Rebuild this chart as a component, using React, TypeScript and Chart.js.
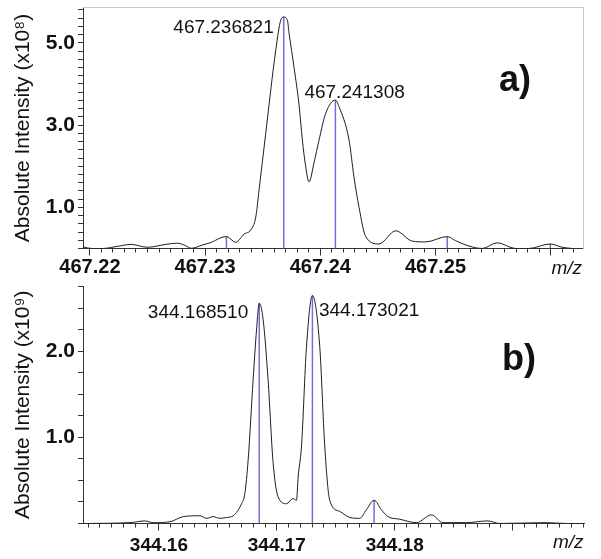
import { useEffect, useRef } from "react";
import { Chart, registerables } from "chart.js";

Chart.register(...registerables);

const FONT = '"Liberation Sans", Arial, Helvetica, sans-serif';

// ---------------- Panel a) ----------------
const aProfileMz = [
  467.21936, 467.22023, 467.22107, 467.22254, 467.22356, 467.225, 467.22659, 467.2276, 467.22818,
  467.22881, 467.22977, 467.23035, 467.23185, 467.23266, 467.23338, 467.23396, 467.2344, 467.23468,
  467.23526, 467.23613, 467.23656, 467.236821, 467.23714, 467.23729, 467.23772, 467.23815, 467.23844,
  467.23873, 467.23902, 467.23945, 467.23989, 467.24047, 467.241308, 467.24162, 467.24249, 467.24292,
  467.24336, 467.24394, 467.24509, 467.24654, 467.24798, 467.24914, 467.25102, 467.25174, 467.2529,
  467.25405, 467.25535, 467.25695, 467.2581, 467.25996, 467.26099, 467.26186,
];
const aProfileIntensity = [
  0.04, 0.0, 0.0, 0.06, 0.1, 0.03, 0.1, 0.13, 0.085,
  0.005, 0.085, 0.13, 0.29, 0.15, 0.35, 0.45, 0.77, 1.42,
  2.8, 4.82, 5.55, 5.63, 5.55, 5.23, 4.4, 3.5, 2.64,
  1.99, 1.62, 2.08, 2.64, 3.29, 3.61, 3.45, 2.64, 1.74,
  1.0, 0.29, 0.11, 0.43, 0.18, 0.16, 0.29, 0.19, 0.06,
  0.0, 0.14, 0.0, 0.0, 0.11, 0.03, 0.0,
];
const aStickMz = [467.23185, 467.236821, 467.241308, 467.25102, 467.25996];
const aStickIntensity = [0.29, 5.63, 3.61, 0.29, 0.11];
const aPeakLabels = ["467.236821", "467.241308"];
const aXTickLabels = ["467.22", "467.23", "467.24", "467.25"];
const aYTickLabels = ["1.0", "3.0", "5.0"];
const aYTitle = "Absolute Intensity (x10\u2078)";
const aPanelLabel = "a)";

// ---------------- Panel b) ----------------
const bProfileMz = [
  344.15358, 344.15754, 344.15881, 344.15952, 344.16093, 344.16206, 344.16347, 344.16404, 344.1646,
  344.16517, 344.16574, 344.1663, 344.16701, 344.16729, 344.16757, 344.16799, 344.16828, 344.16851,
  344.16884, 344.16926, 344.16969, 344.17011, 344.17082, 344.17138, 344.17167, 344.17181, 344.17209,
  344.17252, 344.173021, 344.17364, 344.17407, 344.17449, 344.17534, 344.17619, 344.17703, 344.1776,
  344.17825, 344.17887, 344.17943, 344.18042, 344.18184, 344.18311, 344.18409, 344.18608, 344.18791,
  344.1889, 344.19286, 344.19455, 344.196,
];
const bProfileIntensity = [
  0.0, 0.01, 0.03, 0.01, 0.02, 0.08, 0.09, 0.06, 0.08,
  0.06, 0.07, 0.09, 0.23, 0.35, 0.74, 1.67, 2.25, 2.56,
  2.37, 1.67, 0.7, 0.31, 0.23, 0.29, 0.27, 0.54, 0.89,
  2.06, 2.65, 2.06, 0.89, 0.27, 0.14, 0.07, 0.06, 0.16,
  0.27, 0.16, 0.08, 0.05, 0.01, 0.1, 0.01, 0.01, 0.03,
  0.0, 0.01, 0.0, 0.0,
];
const bStickMz = [344.16851, 344.173021, 344.17825];
const bStickIntensity = [2.56, 2.65, 0.27];
const bPeakLabels = ["344.168510", "344.173021"];
const bXTickLabels = ["344.16", "344.17", "344.18"];
const bYTickLabels = ["1.0", "2.0"];
const bYTitle = "Absolute Intensity (x10\u2079)";
const bPanelLabel = "b)";

const xAxisLabel = "m/z";

// ---------------- helpers ----------------
function profilePoints(mz: number[], inten: number[]) {
  return mz.map((m, i) => ({ x: m, y: inten[i] }));
}
function stickPoints(mz: number[], inten: number[]) {
  const pts: any[] = [];
  mz.forEach((m, i) => {
    pts.push({ x: m, y: 0 }, { x: m, y: inten[i] }, { x: m, y: null });
  });
  return pts;
}

type PanelSpec = {
  width: number;
  height: number;
  padTop: number;
  padRight: number;
  yAxisWidth: number;
  xAxisHeight: number;
  xMin: number;
  xMax: number;
  yMax: number;
  yStep: number;
  xTickSize: number;
  xTickPadding: number;
  frame: boolean;
  profileMz: number[];
  profileIntensity: number[];
  stickMz: number[];
  stickIntensity: number[];
  peakLabels: string[];
  peakOffsets: { dx: number; dy: number; align: CanvasTextAlign }[];
  xTickLabels: string[];
  yTickLabels: string[];
  yTitle: string;
  panelLabel: string;
  panelDx: number;
  panelDy: number;
  mzDy: number;
};

function buildConfig(p: PanelSpec): any {
  const fixPad = (s: any) => {
    s.paddingTop = 0;
    s.paddingBottom = 0;
    s.paddingLeft = 0;
    s.paddingRight = 0;
  };
  const annotate = {
    id: "annotate",
    afterDraw(chart: any) {
      const { ctx, chartArea: ca, scales } = chart;
      ctx.save();
      ctx.fillStyle = "#111";
      ctx.textBaseline = "alphabetic";
      ctx.font = `19px ${FONT}`;
      p.peakLabels.forEach((label, k) => {
        const idx = p.stickMz.findIndex((m) => m.toFixed(6) === label);
        if (idx < 0) return;
        const px = scales.x.getPixelForValue(p.stickMz[idx]);
        const py = scales.y.getPixelForValue(p.stickIntensity[idx]);
        const off = p.peakOffsets[k];
        ctx.textAlign = off.align;
        ctx.fillText(label, px + off.dx, py + off.dy);
      });
      ctx.font = `bold 36px ${FONT}`;
      ctx.textAlign = "left";
      ctx.fillText(p.panelLabel, ca.right + p.panelDx, ca.top + p.panelDy);
      ctx.font = `italic 19px ${FONT}`;
      ctx.textAlign = "right";
      ctx.fillText(xAxisLabel, ca.right - 1, ca.bottom + p.mzDy);
      ctx.restore();
    },
  };

  const scales: any = {
    xminor: {
      type: "linear",
      position: "bottom",
      weight: 0,
      min: p.xMin,
      max: p.xMax,
      ticks: { display: false, stepSize: 0.001, autoSkip: false, includeBounds: false },
      grid: { display: true, drawOnChartArea: false, drawTicks: true, tickLength: 4, tickColor: "#333", tickWidth: 1 },
      border: { display: false },
      afterFit: (s: any) => {
        s.height = 0;
        fixPad(s);
      },
    },
    x: {
      type: "linear",
      position: "bottom",
      weight: 1,
      min: p.xMin,
      max: p.xMax,
      ticks: {
        stepSize: 0.01,
        autoSkip: false,
        includeBounds: false,
        maxRotation: 0,
        minRotation: 0,
        padding: p.xTickPadding,
        color: "#111",
        font: { family: FONT, size: p.xTickSize, weight: "bold" },
        callback: (v: any) => {
          const s = Number(v).toFixed(2);
          return p.xTickLabels.includes(s) ? s : "";
        },
      },
      grid: { display: true, drawOnChartArea: false, drawTicks: true, tickLength: 7, tickColor: "#333", tickWidth: 1 },
      border: { display: true, color: "#333", width: 1 },
      afterFit: (s: any) => {
        s.height = p.xAxisHeight;
        fixPad(s);
      },
    },
    y: {
      type: "linear",
      position: "left",
      min: 0,
      max: p.yMax,
      ticks: {
        stepSize: p.yStep,
        autoSkip: false,
        includeBounds: false,
        padding: 3,
        color: "#111",
        font: { family: FONT, size: 21, weight: "bold" },
        callback: (v: any) => {
          const s = Number(v).toFixed(1);
          return p.yTickLabels.includes(s) && Math.abs(Number(v) - Number(s)) < 1e-6 ? s : "";
        },
      },
      grid: { display: true, drawOnChartArea: false, drawTicks: true, tickLength: 5, tickColor: "#333", tickWidth: 1 },
      border: { display: true, color: "#333", width: 1 },
      title: {
        display: true,
        text: p.yTitle,
        color: "#111",
        font: { family: FONT, size: 21, weight: "normal" },
        padding: { top: 10.4, bottom: 0 },
      },
      afterFit: (s: any) => {
        s.width = p.yAxisWidth;
        fixPad(s);
      },
    },
  };
  if (p.frame) {
    scales.xtop = {
      type: "linear",
      position: "top",
      min: p.xMin,
      max: p.xMax,
      ticks: { display: false },
      grid: { display: true, drawOnChartArea: false, drawTicks: false },
      border: { display: true, color: "#c8c8c8", width: 1 },
      afterFit: (s: any) => {
        s.height = 0;
        fixPad(s);
      },
    };
    scales.yright = {
      type: "linear",
      position: "right",
      min: 0,
      max: p.yMax,
      ticks: { display: false },
      grid: { display: true, drawOnChartArea: false, drawTicks: false },
      border: { display: true, color: "#c8c8c8", width: 1 },
      afterFit: (s: any) => {
        s.width = 0;
        fixPad(s);
      },
    };
  }

  return {
    type: "line",
    data: {
      datasets: [
        {
          label: "profile",
          data: profilePoints(p.profileMz, p.profileIntensity),
          xAxisID: "x",
          yAxisID: "y",
          borderColor: "#1e1e1e",
          borderWidth: 1,
          pointRadius: 0,
          fill: false,
          cubicInterpolationMode: "monotone",
        },
        {
          label: "sticks",
          data: stickPoints(p.stickMz, p.stickIntensity),
          xAxisID: "x",
          yAxisID: "y",
          borderColor: "#6f6fd6",
          borderWidth: 1.5,
          pointRadius: 0,
          fill: false,
          tension: 0,
          spanGaps: false,
        },
      ],
    },
    options: {
      responsive: false,
      animation: false,
      devicePixelRatio: 1,
      layout: {
        autoPadding: false,
        padding: { left: 0, top: p.padTop, right: p.padRight, bottom: 0 },
      },
      plugins: {
        legend: { display: false },
        tooltip: { enabled: false },
      },
      scales,
    },
    plugins: [annotate],
  };
}

const panelA: PanelSpec = {
  width: 601,
  height: 280,
  padTop: 7.5,
  padRight: 18,
  yAxisWidth: 83,
  xAxisHeight: 31.5,
  xMin: 467.2194,
  xMax: 467.2628,
  yMax: 5.86,
  yStep: 0.2,
  xTickSize: 20,
  xTickPadding: 0,
  frame: true,
  profileMz: aProfileMz,
  profileIntensity: aProfileIntensity,
  stickMz: aStickMz,
  stickIntensity: aStickIntensity,
  peakLabels: aPeakLabels,
  peakOffsets: [
    { dx: -10, dy: 16, align: "right" },
    { dx: -31, dy: -2, align: "left" },
  ],
  xTickLabels: aXTickLabels,
  yTickLabels: aYTickLabels,
  yTitle: aYTitle,
  panelLabel: aPanelLabel,
  panelDx: -84,
  panelDy: 83.5,
  mzDy: 25.5,
};

const panelB: PanelSpec = {
  width: 601,
  height: 279,
  padTop: 6,
  padRight: 16.5,
  yAxisWidth: 83,
  xAxisHeight: 35.5,
  xMin: 344.15356,
  xMax: 344.1961,
  yMax: 2.76,
  yStep: 0.25,
  xTickSize: 19,
  xTickPadding: 4,
  frame: false,
  profileMz: bProfileMz,
  profileIntensity: bProfileIntensity,
  stickMz: bStickMz,
  stickIntensity: bStickIntensity,
  peakLabels: bPeakLabels,
  peakOffsets: [
    { dx: -11, dy: 15, align: "right" },
    { dx: 6.5, dy: 21, align: "left" },
  ],
  xTickLabels: bXTickLabels,
  yTickLabels: bYTickLabels,
  yTitle: bYTitle,
  panelLabel: bPanelLabel,
  panelDx: -82.5,
  panelDy: 84,
  mzDy: 24.5,
};

function Panel({ spec, top }: { spec: PanelSpec; top: number }) {
  const ref = useRef<HTMLCanvasElement | null>(null);
  useEffect(() => {
    if (!ref.current) return;
    const chart = new Chart(ref.current, buildConfig(spec));
    return () => chart.destroy();
  }, [spec]);
  return (
    <div style={{ position: "absolute", left: 0, top, width: spec.width, height: spec.height }}>
      <canvas ref={ref} width={spec.width} height={spec.height} style={{ width: spec.width, height: spec.height, display: "block" }} />
    </div>
  );
}

export default function App() {
  return (
    <div style={{ position: "fixed", left: 0, top: 0, width: 601, height: 559, background: "#fff", overflow: "hidden" }}>
      <Panel spec={panelA} top={0} />
      <Panel spec={panelB} top={280} />
    </div>
  );
}
